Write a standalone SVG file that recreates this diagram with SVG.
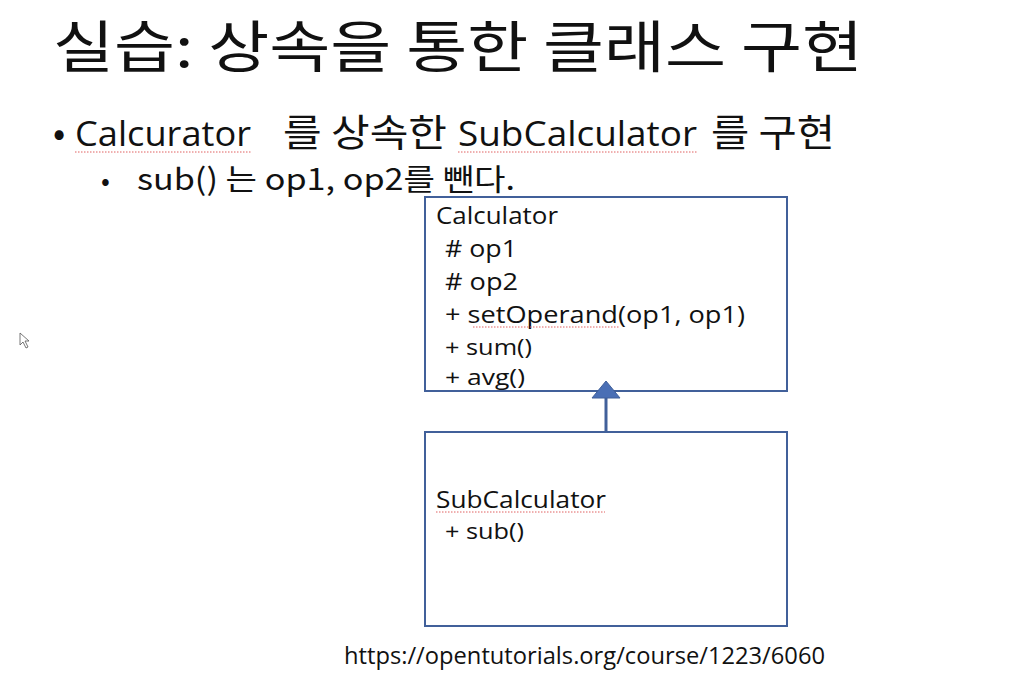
<svg xmlns="http://www.w3.org/2000/svg" width="1016" height="678" viewBox="0 0 1016 678">
  <style>
    .t { font-family: "Noto Sans CJK KR", "Noto Sans", sans-serif; fill: #111; }
    .m { font-family: "Open Sans", "Noto Sans", sans-serif; fill: #111; }
    .box { fill: #fff; stroke: #41609a; stroke-width: 2; }
    .wave { fill: none; stroke: #e06060; stroke-width: 1; stroke-dasharray: 1.5 1.5; }
  </style>
  <rect width="1016" height="678" fill="#fff"/>

  <!-- heading -->
  <text class="t" x="53" y="67" font-size="56" textLength="810" lengthAdjust="spacingAndGlyphs">실습: 상속을 통한 클래스 구현</text>

  <!-- bullet line -->
  <text class="t" x="53" y="146" font-size="36">•</text>
  <text class="m" x="75" y="146" font-size="35" textLength="176" lengthAdjust="spacingAndGlyphs">Calcurator</text>
  <text class="t" x="283" y="146" font-size="38" textLength="164" lengthAdjust="spacingAndGlyphs">를 상속한</text>
  <text class="m" x="458" y="146" font-size="35" textLength="239" lengthAdjust="spacingAndGlyphs">SubCalculator</text>
  <text class="t" x="711" y="146" font-size="38" textLength="124" lengthAdjust="spacingAndGlyphs">를 구현</text>
  <line class="wave" x1="75" y1="152" x2="251" y2="152"/>
  <line class="wave" x1="458" y1="152" x2="697" y2="152"/>

  <!-- sub bullet -->
  <text class="t" x="101" y="190" font-size="26">•</text>
  <text class="t" x="137" y="190" font-size="30" textLength="378" lengthAdjust="spacingAndGlyphs">sub() 는 op1, op2를 뺀다.</text>

  <!-- class: Calculator -->
  <g id="calculator">
    <rect class="box" x="425" y="197" width="362" height="194"/>
    <text class="m" x="436" y="224" font-size="24" textLength="122" lengthAdjust="spacingAndGlyphs">Calculator</text>
    <text class="m" x="445" y="257" font-size="23" textLength="72" lengthAdjust="spacingAndGlyphs"># op1</text>
    <text class="m" x="445" y="290" font-size="23" textLength="73" lengthAdjust="spacingAndGlyphs"># op2</text>
    <text class="m" x="445" y="323" font-size="23" textLength="300" lengthAdjust="spacingAndGlyphs">+ setOperand(op1, op1)</text>
    <text class="m" x="445" y="355" font-size="22" textLength="87" lengthAdjust="spacingAndGlyphs">+ sum()</text>
    <text class="m" x="445" y="385" font-size="22" textLength="80" lengthAdjust="spacingAndGlyphs">+ avg()</text>
    <line class="wave" x1="473" y1="327" x2="620" y2="327"/>
  </g>

  <!-- class: SubCalculator -->
  <g id="subcalculator">
    <rect class="box" x="425" y="432" width="362" height="194"/>
    <text class="m" x="436" y="508" font-size="23" textLength="170" lengthAdjust="spacingAndGlyphs">SubCalculator</text>
    <text class="m" x="445" y="539" font-size="22" textLength="79" lengthAdjust="spacingAndGlyphs">+ sub()</text>
    <line class="wave" x1="436" y1="512" x2="605" y2="512"/>
  </g>

  <!-- inheritance connector -->
  <g id="connectors">
    <line x1="606" y1="432" x2="606" y2="397" stroke="#41609a" stroke-width="3"/>
    <polygon points="606,381 592,398 620,398" fill="#4a6fb5" stroke="#41609a" stroke-width="1"/>
  </g>

  <text class="m" x="344" y="664" font-size="23" textLength="481" lengthAdjust="spacingAndGlyphs">https://opentutorials.org/course/1223/6060</text>

  <!-- pointer -->
  <polygon points="20,333 20,345 23,342 26,348 28,347 25,341 29,341" fill="#fff" stroke="#555" stroke-width="0.8"/>
</svg>
